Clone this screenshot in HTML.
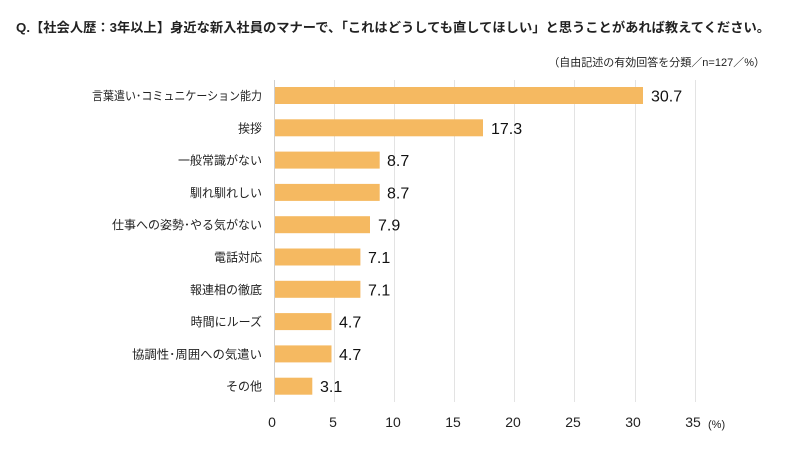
<!DOCTYPE html>
<html><head><meta charset="utf-8"><style>
body{margin:0;background:#fff;}
svg text{font-family:"Liberation Sans","Noto Sans CJK JP",sans-serif;}
</style></head><body>
<svg width="790" height="447" xmlns="http://www.w3.org/2000/svg">
<rect width="790" height="447" fill="#fff"/>
<text x="16" y="32" font-size="13" font-weight="bold" fill="#222" textLength="754" lengthAdjust="spacingAndGlyphs">Q.【社会人歴：3年以上】身近な新入社員のマナーで、「これはどうしても直してほしい」と思うことがあれば教えてください。</text>
<text x="765" y="66" font-size="11" fill="#222" text-anchor="end">（自由記述の有効回答を分類／n=127／%）</text>
<g stroke="#e3e3e3" stroke-width="1">
<line x1="334.5" y1="80" x2="334.5" y2="402"/><line x1="394.5" y1="80" x2="394.5" y2="402"/>
<line x1="454.5" y1="80" x2="454.5" y2="402"/><line x1="514.5" y1="80" x2="514.5" y2="402"/>
<line x1="574.5" y1="80" x2="574.5" y2="402"/><line x1="635.5" y1="80" x2="635.5" y2="402"/>
<line x1="695.5" y1="80" x2="695.5" y2="402"/>
</g>
<line x1="274.5" y1="80" x2="274.5" y2="402" stroke="#cfcfcf"/>
<g fill="#F5B961">
<rect x="275" y="87" width="368" height="17"/>
<rect x="275" y="119.3" width="208" height="17"/>
<rect x="275" y="151.6" width="104.7" height="17"/>
<rect x="275" y="183.9" width="104.7" height="17"/>
<rect x="275" y="216.2" width="95" height="17"/>
<rect x="275" y="248.5" width="85.4" height="17"/>
<rect x="275" y="280.8" width="85.4" height="17"/>
<rect x="275" y="313.1" width="56.5" height="17"/>
<rect x="275" y="345.4" width="56.5" height="17"/>
<rect x="275" y="377.7" width="37.3" height="17"/>
</g>
<g font-size="16" fill="#111">
<text x="651" y="101.5">30.7</text>
<text x="491" y="133.8">17.3</text>
<text x="387" y="166.1">8.7</text>
<text x="387" y="198.4">8.7</text>
<text x="378" y="230.7">7.9</text>
<text x="368" y="263">7.1</text>
<text x="368" y="295.3">7.1</text>
<text x="339" y="327.6">4.7</text>
<text x="339" y="359.9">4.7</text>
<text x="320" y="392.2">3.1</text>
</g>
<g font-size="12" fill="#222" text-anchor="end">
<text x="262" y="100" textLength="170" lengthAdjust="spacingAndGlyphs">言葉遣い･コミュニケーション能力</text>
<text x="262" y="132.3">挨拶</text>
<text x="262" y="164.6">一般常識がない</text>
<text x="262" y="196.9">馴れ馴れしい</text>
<text x="262" y="229.2" textLength="150" lengthAdjust="spacingAndGlyphs">仕事への姿勢･やる気がない</text>
<text x="262" y="261.5">電話対応</text>
<text x="262" y="293.8">報連相の徹底</text>
<text x="262" y="326.1">時間にルーズ</text>
<text x="262" y="358.4" textLength="130" lengthAdjust="spacingAndGlyphs">協調性･周囲への気遣い</text>
<text x="262" y="390.7">その他</text>
</g>
<g font-size="14" fill="#222" text-anchor="middle">
<text x="272" y="427">0</text><text x="333" y="427">5</text><text x="393" y="427">10</text>
<text x="453" y="427">15</text><text x="513" y="427">20</text><text x="573" y="427">25</text>
<text x="633" y="427">30</text><text x="693" y="427">35</text>
</g>
<text x="708" y="428" font-size="11" fill="#222">(%)</text>
</svg>
</body></html>
